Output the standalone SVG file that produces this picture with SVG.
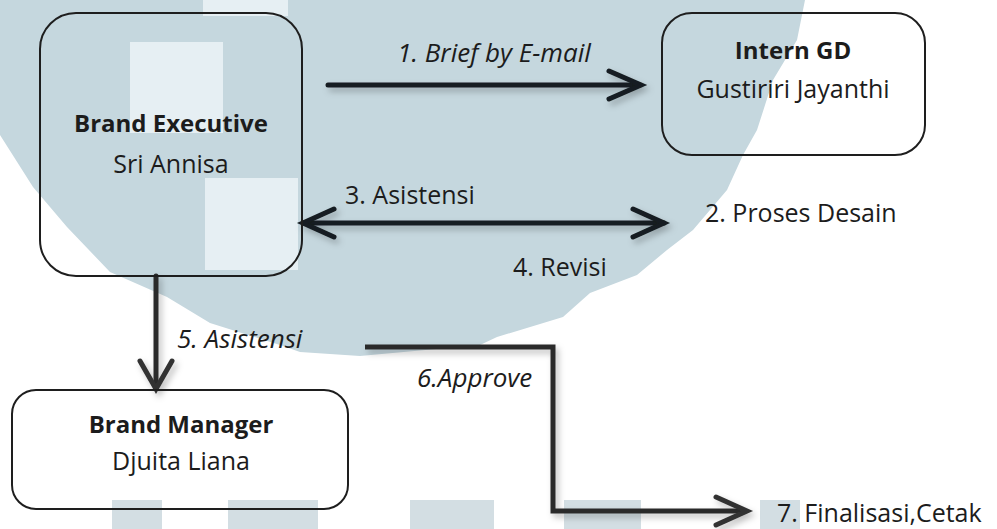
<svg xmlns="http://www.w3.org/2000/svg" width="997" height="529" viewBox="0 0 997 529">
<defs>
<filter id="sh" x="-10%" y="-50%" width="120%" height="200%">
<feDropShadow dx="3" dy="4" stdDeviation="3" flood-color="#000" flood-opacity="0.25"/>
</filter>
<style>
.bg{fill:#c5d7de}
.wm{fill:#e6eff3}
.blk{fill:#d3dee3}
.box{fill:none;stroke:#1e1e1e;stroke-width:2}
.t{font-family:"Open Sans",sans-serif;font-size:25px;fill:#1c1c1c}
.b{font-weight:bold;font-size:24px}
.i{font-style:italic;font-size:26px}
.ln{fill:none;stroke:#141c20;stroke-width:5;stroke-linecap:round;stroke-linejoin:miter}
</style>
</defs>
<rect width="997" height="529" fill="#ffffff"/>
<g id="watermark">
<path class="bg" d="M0,0 L805,0 L797,40 L773,80 L757,130 L743,155 L727,190 L693,230 L667,250 L637,275 L590,293 L563,317 L497,337 L480,345 L360,356 L300,352 L280,345 L210,323 L167,297 L110,272 L67,227 L33,187 L0,135 Z"/>
<rect class="wm" x="130" y="42" width="93" height="91"/>
<rect class="wm" x="205" y="178" width="93" height="92"/>
<rect class="wm" x="203" y="0" width="85" height="16"/>
<rect class="blk" x="112" y="500" width="50" height="29"/>
<rect class="blk" x="228" y="500" width="90" height="29"/>
<rect class="blk" x="410" y="500" width="84" height="29"/>
<rect class="blk" x="564" y="500" width="77" height="29"/>
<rect class="blk" x="760" y="500" width="40" height="29"/>
</g>
<g id="connectors" filter="url(#sh)">
<line class="ln" x1="328" y1="85" x2="640" y2="85"/>
<polyline class="ln" points="609,71 641,85 609,99"/>
<line class="ln" x1="303" y1="223" x2="664" y2="223"/>
<polyline class="ln" points="334,209 303,223 334,237"/>
<polyline class="ln" points="633,209 664,223 633,237"/>
<line class="ln" x1="156" y1="276" x2="156" y2="388" style="stroke:#2a2a2a"/>
<polyline class="ln" points="140,361 156,389 172,361" style="stroke:#333"/>
<polyline class="ln" points="365,347 553,347 553,511 746,511" style="stroke:#2a2a2a;stroke-linecap:butt"/>
<polyline class="ln" points="716,497 747,511 716,525" style="stroke:#333"/>
</g>
<g id="brand-executive">
<rect class="box" x="40" y="13" width="262" height="263" rx="36"/>
<text class="t b" x="171" y="132" text-anchor="middle">Brand Executive</text>
<text class="t" x="171" y="173" text-anchor="middle">Sri Annisa</text>
</g>
<g id="intern-gd">
<rect class="box" x="662" y="13" width="263" height="142" rx="30"/>
<text class="t b" x="793" y="59" text-anchor="middle">Intern GD</text>
<text class="t" x="793" y="98" text-anchor="middle">Gustiriri Jayanthi</text>
</g>
<g id="brand-manager">
<rect class="box" x="12" y="390" width="336" height="119" rx="24"/>
<text class="t b" x="181" y="433" text-anchor="middle">Brand Manager</text>
<text class="t" x="181" y="470" text-anchor="middle">Djuita Liana</text>
</g>
<g id="labels">
<text class="t i" x="494" y="62" text-anchor="middle">1. Brief by E-mail</text>
<text class="t" x="345" y="204">3. Asistensi</text>
<text class="t" x="705" y="222">2. Proses Desain</text>
<text class="t" x="513" y="276">4. Revisi</text>
<text class="t i" x="177" y="348">5. Asistensi</text>
<text class="t i" x="417" y="387">6.Approve</text>
<text class="t" x="777" y="522">7. Finalisasi,Cetak</text>
</g>
</svg>
